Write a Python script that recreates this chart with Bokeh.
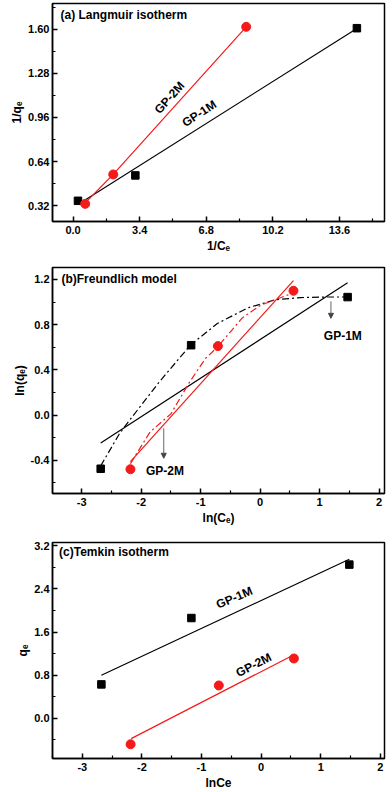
from bokeh.plotting import figure
from bokeh.layouts import column
from bokeh.models import FixedTicker, PrintfTickFormatter, Arrow, NormalHead, Range1d
from bokeh.core.properties import value
from bokeh.embed import file_html
from bokeh.resources import INLINE

FONT = "Liberation Sans"
RED = "#f41a1a"

# ---------------- (a) Langmuir isotherm ----------------
a_gp1_x = [0.25, 3.18, 14.49]
a_gp1_y = [0.356, 0.54, 1.607]
a_gp2_x = [0.62, 2.05, 8.84]
a_gp2_y = [0.334, 0.547, 1.617]
a_fit1_x = [0.25, 14.43]
a_fit1_y = [0.329, 1.60]
a_fit2_x = [0.54, 2.05, 8.84]
a_fit2_y = [0.329, 0.547, 1.617]
a_xticks = [0.0, 3.4, 6.8, 10.2, 13.6]
a_xminor = [1.7, 5.1, 8.5, 11.9, 15.3]
a_yticks = [0.32, 0.64, 0.96, 1.28, 1.60]
a_yminor = [0.48, 0.80, 1.12, 1.44, 1.76]

# ---------------- (b) Freundlich model ----------------
b_gp1_x = [-2.68, -1.16, 1.47]
b_gp1_y = [-0.476, 0.618, 1.044]
b_gp2_x = [-2.18, -0.71, 0.56]
b_gp2_y = [-0.48, 0.61, 1.10]
b_fit1_x = [-2.68, 1.47]
b_fit1_y = [-0.248, 1.17]
b_fit2_x = [-2.18, 0.56]
b_fit2_y = [-0.412, 1.19]
b_curve1_x = [-2.68, -2.37, -2.2, -1.7, -1.17, -0.72, -0.2, 0.25, 0.68, 1.16, 1.47]
b_curve1_y = [-0.45, -0.17, -0.05, 0.29, 0.62, 0.81, 0.95, 1.02, 1.04, 1.045, 1.045]
b_curve2_x = [-2.18, -1.85, -1.5, -1.2, -0.92, -0.72, -0.3, 0.0, 0.25, 0.5]
b_curve2_y = [-0.43, -0.15, 0.01, 0.28, 0.5, 0.6, 0.86, 0.97, 1.02, 1.07]
b_xticks = [-3, -2, -1, 0, 1, 2]
b_xminor = [-3.5, -2.5, -1.5, -0.5, 0.5, 1.5]
b_yticks = [-0.4, 0.0, 0.4, 0.8, 1.2]
b_yminor = [-0.6, -0.2, 0.2, 0.6, 1.0]

# ---------------- (c) Temkin isotherm ----------------
c_gp1_x = [-2.68, -1.17, 1.48]
c_gp1_y = [0.63, 1.86, 2.85]
c_gp2_x = [-2.19, -0.71, 0.55]
c_gp2_y = [-0.48, 0.61, 1.11]
c_fit1_x = [-2.68, 1.48]
c_fit1_y = [0.80, 2.95]
c_fit2_x = [-2.18, 0.56]
c_fit2_y = [-0.375, 1.185]
c_xticks = [-3, -2, -1, 0, 1, 2]
c_xminor = [-3.5, -2.5, -1.5, -0.5, 0.5, 1.5]
c_yticks = [0.0, 0.8, 1.6, 2.4, 3.2]
c_yminor = [-0.4, 0.4, 1.2, 2.0, 2.8]


def make(height, xr, yr, border_left, border_right, border_top, border_bottom):
    p = figure(width=392, height=height, output_backend="svg", toolbar_location=None,
               x_range=Range1d(*xr), y_range=Range1d(*yr),
               min_border_left=border_left, min_border_right=border_right,
               min_border_top=border_top, min_border_bottom=border_bottom)
    p.grid.visible = False
    p.outline_line_color = "black"
    p.outline_line_width = 1.5
    p.background_fill_color = "white"
    p.border_fill_color = "white"
    return p


def style(p, xlabel, ylabel, xt, xm, yt, ym, xfmt, yfmt):
    p.xaxis.ticker = FixedTicker(ticks=xt, minor_ticks=xm)
    p.yaxis.ticker = FixedTicker(ticks=yt, minor_ticks=ym)
    p.xaxis.formatter = PrintfTickFormatter(format=xfmt)
    p.yaxis.formatter = PrintfTickFormatter(format=yfmt)
    p.xaxis.axis_label = xlabel
    p.yaxis.axis_label = ylabel
    for ax in (p.xaxis[0], p.yaxis[0]):
        ax.major_tick_in = 5
        ax.major_tick_out = 0
        ax.minor_tick_in = 3
        ax.minor_tick_out = 0
        ax.axis_line_width = 1.5
        ax.major_tick_line_width = 1.5
        ax.minor_tick_line_width = 1.2
        ax.major_label_text_font = FONT
        ax.major_label_text_font_style = "bold"
        ax.major_label_text_font_size = "11px"
        ax.major_label_text_color = "black"
        ax.major_label_standoff = 4
        ax.axis_label_text_font = FONT
        ax.axis_label_text_font_style = "bold"
        ax.axis_label_text_font_size = "12px"
        ax.axis_label_text_color = "black"
        ax.axis_label_standoff = 2
    p.yaxis[0].major_label_standoff = 3
    p.yaxis[0].axis_label_standoff = 1


def label(p, x, y, txt, angle=0, align="center", size="12px"):
    p.text(x=[x], y=[y], text=[txt], angle=angle, angle_units="deg",
           text_font=value(FONT), text_font_style="bold", text_font_size=size,
           text_align=align, text_baseline="middle", text_color="black")


# Panel a
pa = make(258, (-1.05, 15.9), (0.206, 1.786), 52, 4, 3, 37)
pa.line(a_fit1_x, a_fit1_y, line_color="black", line_width=1.2)
pa.line(a_fit2_x, a_fit2_y, line_color=RED, line_width=1.2)
pa.scatter(a_gp1_x, a_gp1_y, marker="square", size=7.5, color="black")
pa.scatter(a_gp2_x, a_gp2_y, marker="circle", size=9, color=RED)
style(pa, "1/Cₑ", "1/qₑ", a_xticks, a_xminor, a_yticks, a_yminor, "%.1f", "%.2f")
label(pa, -0.64, 1.70, "(a) Langmuir isotherm", align="left")
label(pa, 4.92, 1.104, "GP-2M", angle=48)
label(pa, 6.44, 0.988, "GP-1M", angle=33)

# Panel b
pb = make(270, (-3.49, 2.09), (-0.695, 1.306), 40, 4, 9, 35)
pb.line(b_fit1_x, b_fit1_y, line_color="black", line_width=1.2)
pb.line(b_fit2_x, b_fit2_y, line_color=RED, line_width=1.2)
pb.line(b_curve1_x, b_curve1_y, line_color="black", line_width=1.2, line_dash="7 3 2 3")
pb.line(b_curve2_x, b_curve2_y, line_color=RED, line_width=1.2, line_dash="7 3 2 3")
pb.scatter(b_gp1_x, b_gp1_y, marker="square", size=7.5, color="black")
pb.scatter(b_gp2_x, b_gp2_y, marker="circle", size=9, color=RED)
style(pb, "ln(Cₑ)", "ln(qₑ)", b_xticks, b_xminor, b_yticks, b_yminor, "%d", "%.1f")
label(pb, -3.34, 1.2, "(b)Freundlich model", align="left")
label(pb, 1.39, 0.699, "GP-1M")
label(pb, -1.60, -0.50, "GP-2M")
pb.add_layout(Arrow(end=NormalHead(size=5, fill_color="#444444", line_color="#444444"),
                    x_start=1.19, y_start=1.006, x_end=1.19, y_end=0.856,
                    line_color="#666666", line_width=1))
pb.add_layout(Arrow(end=NormalHead(size=5, fill_color="#444444", line_color="#444444"),
                    x_start=-1.62, y_start=-0.118, x_end=-1.62, y_end=-0.383,
                    line_color="#666666", line_width=1))

# Panel c
pc = make(264, (-3.5, 2.07), (-0.744, 3.26), 47, 8, 14, 28)
pc.line(c_fit1_x, c_fit1_y, line_color="black", line_width=1.2)
pc.line(c_fit2_x, c_fit2_y, line_color=RED, line_width=1.2)
pc.scatter(c_gp1_x, c_gp1_y, marker="square", size=7.5, color="black")
pc.scatter(c_gp2_x, c_gp2_y, marker="circle", size=9, color=RED)
style(pc, "lnCe", "qₑ", c_xticks, c_xminor, c_yticks, c_yminor, "%d", "%.1f")
label(pc, -3.39, 3.08, "(c)Temkin isotherm", align="left")
label(pc, -0.45, 2.237, "GP-1M", angle=23)
label(pc, -0.124, 0.99, "GP-2M", angle=27)

layout = column(pa, pb, pc, spacing=0)
open("out.html", "w").write(file_html(layout, INLINE))
